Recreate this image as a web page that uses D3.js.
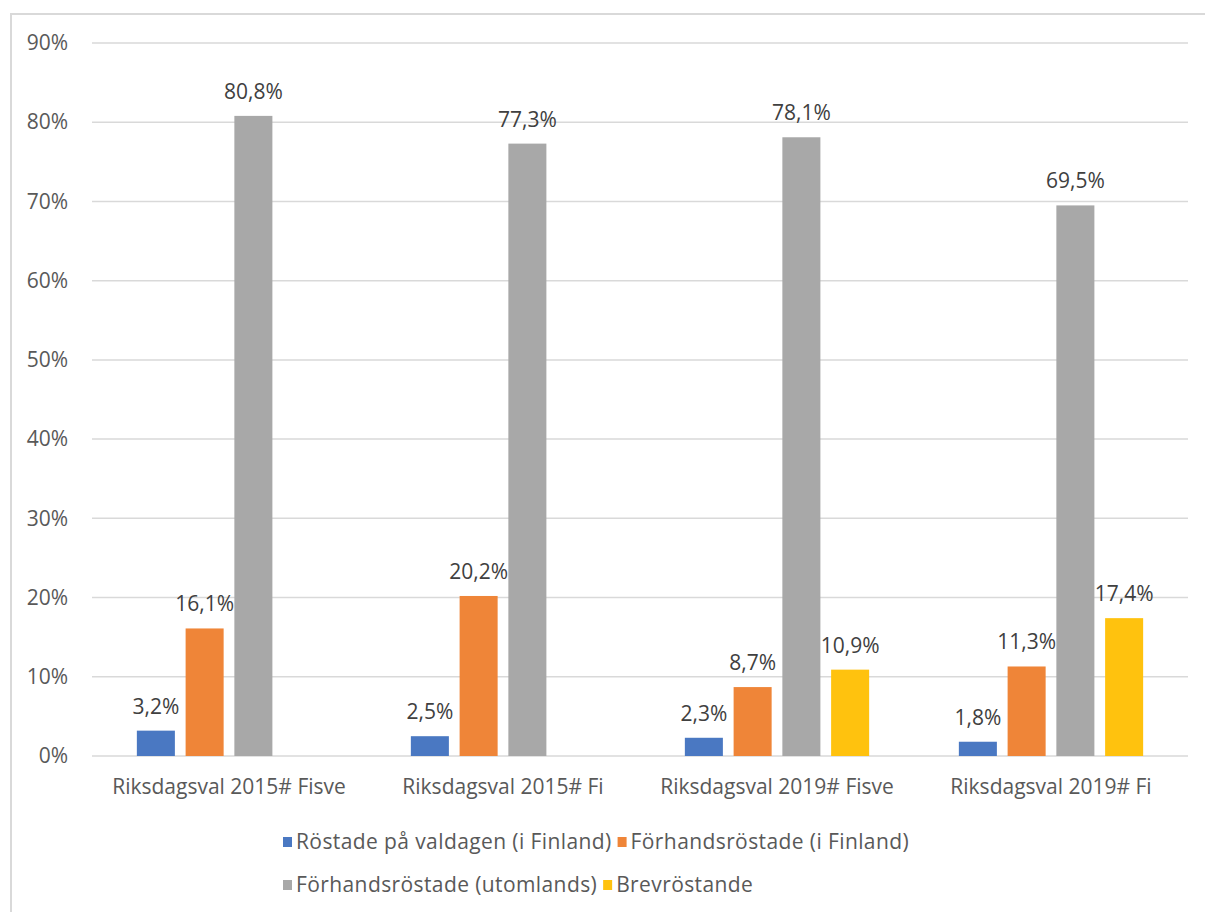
<!DOCTYPE html>
<html>
<head>
<meta charset="utf-8">
<script src="https://cdn.jsdelivr.net/npm/d3@7"></script>
<style>
  body { margin: 0; background: #fff; }
  text { font-family: "Open Sans", sans-serif; }
</style>
</head>
<body>
<div id="chart"></div>
<script>

const categories = ["Riksdagsval 2015# Fisve", "Riksdagsval 2015# Fi", "Riksdagsval 2019# Fisve", "Riksdagsval 2019# Fi"];
const seriesNames = ["Röstade på valdagen (i Finland)", "Förhandsröstade (i Finland)", "Förhandsröstade (utomlands)", "Brevröstande"];
const valdagen = [3.2, 2.5, 2.3, 1.8];
const forhandFinland = [16.1, 20.2, 8.7, 11.3];
const forhandUtomlands = [80.8, 77.3, 78.1, 69.5];
const brev = [null, null, 10.9, 17.4];
const yTicks = [0, 10, 20, 30, 40, 50, 60, 70, 80, 90];
const colors = ["#4a78c2", "#ef8538", "#a8a8a8", "#ffc20e"];

const seriesValues = [valdagen, forhandFinland, forhandUtomlands, brev];

const W = 1205, H = 912;
const margin = {top: 43, right: 15, bottom: 156, left: 92};
const width = W - margin.left - margin.right;
const height = H - margin.top - margin.bottom;

const svg = d3.select("#chart")
    .append("svg")
    .attr("width", W)
    .attr("height", H);

// outer frame
svg.append("rect")
    .attr("x", 11).attr("y", 14)
    .attr("width", W + 20).attr("height", H + 20)
    .attr("fill", "none")
    .attr("stroke", "#d9d9d9")
    .attr("stroke-width", 2);

const g = svg.append("g")
    .attr("transform", "translate(" + margin.left + "," + margin.top + ")");

let x0 = d3.scaleBand().domain(categories).range([0, width - 2]);
let x1 = d3.scaleBand().domain(seriesNames).range([0, x0.bandwidth()])
    .paddingInner(0.22).paddingOuter(0.92);
let y = d3.scaleLinear().domain([0, 90]).range([height, 0]);

const pct = d3.formatLocale({decimal: ",", thousands: " ", grouping: [3], currency: ["", ""]}).format(".1f");

// gridlines
g.append("g")
    .selectAll("line")
    .data(yTicks)
    .enter().append("line")
    .attr("x1", 0)
    .attr("x2", width - 2)
    .attr("y1", d => y(d))
    .attr("y2", d => y(d))
    .attr("stroke", "#d9d9d9")
    .attr("stroke-width", 1.5);

// y axis labels
const yAxis = d3.axisLeft(y).tickValues(yTicks).tickSize(0).tickPadding(24)
    .tickFormat(d => d + "%");
g.append("g")
    .attr("class", "y axis")
    .call(yAxis)
    .call(a => a.select(".domain").remove())
    .selectAll("text")
    .style("font-size", "21px")
    .attr("fill", "#595959");

// x axis labels
const xAxis = d3.axisBottom(x0).tickSize(0).tickPadding(23);
g.append("g")
    .attr("class", "x axis")
    .attr("transform", "translate(0," + height + ")")
    .call(xAxis)
    .call(a => a.select(".domain").remove())
    .selectAll("text")
    .style("font-size", "21px")
    .attr("fill", "#595959");

// bars
const rows = [];
categories.forEach((c, i) => {
    seriesNames.forEach((s, j) => {
        const v = seriesValues[j][i];
        if (v !== null) rows.push({cat: c, series: s, idx: j, value: v});
    });
});

g.selectAll(".bar")
    .data(rows)
    .enter().append("rect")
    .attr("class", "bar")
    .attr("x", d => x0(d.cat) + x1(d.series))
    .attr("y", d => y(d.value))
    .attr("width", x1.bandwidth())
    .attr("height", d => height - y(d.value))
    .attr("fill", d => colors[d.idx]);

g.selectAll(".lbl")
    .data(rows)
    .enter().append("text")
    .attr("class", "lbl")
    .attr("x", d => x0(d.cat) + x1(d.series) + x1.bandwidth() / 2)
    .attr("y", d => y(d.value) - 17)
    .attr("text-anchor", "middle")
    .style("font-size", "21px")
    .attr("fill", "#404040")
    .text(d => pct(d.value) + "%");

// legend
const legendRows = [[0, 1], [2, 3]];
legendRows.forEach((r, ri) => {
    let lx = 283;
    const ly = 842 + ri * 43;
    r.forEach(j => {
        svg.append("rect")
            .attr("x", lx).attr("y", ly - 5)
            .attr("width", 9).attr("height", 10)
            .attr("fill", colors[j]);
        const t = svg.append("text")
            .attr("x", lx + 13)
            .attr("y", ly)
            .attr("dy", "0.35em")
            .style("font-size", "21px")
            .style("letter-spacing", "0.4px")
            .attr("fill", "#595959")
            .text(seriesNames[j]);
        lx += 13 + t.node().getComputedTextLength() + 6;
    });
});

</script>
</body>
</html>
